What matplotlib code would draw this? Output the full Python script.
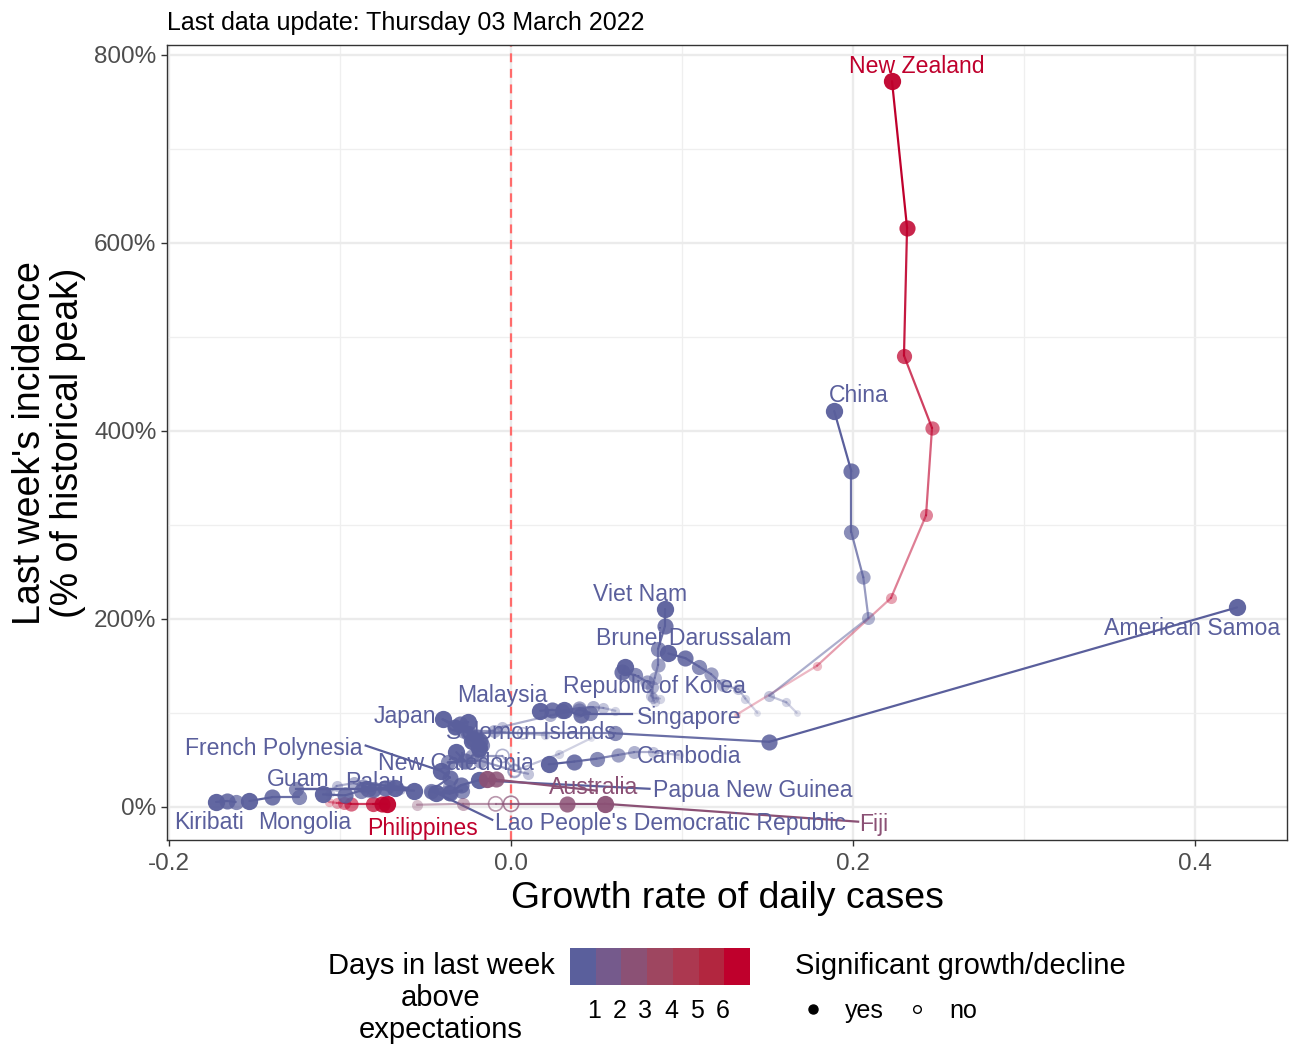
import matplotlib
matplotlib.use("Agg")
import matplotlib.pyplot as plt
from matplotlib.colors import ListedColormap
from matplotlib.lines import Line2D

plt.rcParams["font.family"] = ["Liberation Sans", "DejaVu Sans"]

# each series runs newest -> oldest: name, growth, incidence, days above, significant
nz_x = [0.2228, 0.2316, 0.2298, 0.2462, 0.2427, 0.2222, 0.179, 0.132]
nz_y = [772, 616, 480, 403, 310, 222, 150, 98]
china_x = [0.189, 0.199, 0.199, 0.206, 0.209, 0.151, 0.161, 0.167]
china_y = [421, 357, 292, 244, 201, 118, 111, 100]
vietnam_x = [0.090, 0.090, 0.086, 0.086, 0.084, 0.082, 0.084]
vietnam_y = [210, 192, 168, 151, 137, 118, 111]
brunei_x = [0.092, 0.102, 0.110, 0.117, 0.124, 0.133, 0.137, 0.144]
brunei_y = [163, 158, 149, 141, 129, 125, 115, 100]
korea_x = [0.0667, 0.065, 0.0725, 0.0795, 0.0825, 0.083, 0.087]
korea_y = [149, 143, 140, 133, 127, 116, 115]
malaysia_x = [0.017, 0.024, 0.030, 0.040, 0.048, 0.054, 0.061]
malaysia_y = [102, 103, 102, 105, 106, 105, 102]
singapore_x = [0.031, 0.041, 0.046, 0.040, 0.023, -0.005, -0.02]
singapore_y = [103, 97, 100, 103, 97, 85, 75]
japan_x = [-0.040, -0.033, -0.025, -0.020, -0.018]
japan_y = [93, 85, 78, 75, 72]
solomon_x = [-0.025, -0.030, -0.033, -0.028, -0.01, 0.007, 0.02]
solomon_y = [90, 88, 85, 80, 80, 78, 76]
samoa_x = [0.4246, 0.151, 0.061, -0.024]
samoa_y = [212, 69, 78, 78]
cluster_x = [-0.023, -0.018, -0.019, -0.023, -0.005, 0.002, 0.028, 0.047]
cluster_y = [70, 70, 60, 54, 54, 38, 56, 73]
cluster2_x = [-0.019, -0.022, -0.017]
cluster2_y = [62, 72, 66]
french_x = [-0.041, -0.0357, -0.047]
french_y = [38, 31, 17]
caledonia_x = [-0.032, -0.027, -0.037, -0.018, 0.002, 0.010]
caledonia_y = [58, 49, 47, 49, 38, 35]
cambodia_x = [0.022, 0.037, 0.050, 0.0626, 0.072, 0.083, 0.098]
cambodia_y = [45, 48, 51, 55, 58, 58, 55]
lao_x = [-0.044, -0.0357, -0.0287, -0.047, -0.036]
lao_y = [15, 14, 17, 16, 22]
papua_x = [-0.019, -0.029, -0.036]
papua_y = [28, 23, 14]
australia_x = [-0.014, -0.009]
australia_y = [29, 29]
fiji_x = [0.055, 0.033, 0.0, -0.009, -0.028, -0.055]
fiji_y = [3, 3, 3, 3, 3, 2]
phil_x = [-0.0725, -0.0755, -0.081, -0.0936, -0.0977, -0.102, -0.1065]
phil_y = [3, 3, 3, 3, 4, 4, 5]
kiribati_x = [-0.1725, -0.166, -0.161]
kiribati_y = [5, 6, 5]
mongolia_x = [-0.153, -0.140, -0.124]
mongolia_y = [6, 10, 10]
mongolia2_x = [-0.110, -0.097, -0.088, -0.081, -0.071, -0.065]
mongolia2_y = [13, 12, 17, 17, 22, 19]
palau_x = [-0.068, -0.074, -0.08, -0.0866, -0.092, -0.102, -0.106]
palau_y = [20, 20, 19, 22, 25, 22, 15]
guam_x = [-0.0567, -0.0836, -0.1257]
guam_y = [17, 19, 19]

series = [
    ("New Zealand", nz_x, nz_y, 6, None),
    ("China", china_x, china_y, 0, None),
    ("Viet Nam", vietnam_x, vietnam_y, 0, None),
    ("Brunei", brunei_x, brunei_y, 0, None),
    ("Korea", korea_x, korea_y, 0, None),
    ("Malaysia", malaysia_x, malaysia_y, 0, None),
    ("Singapore", singapore_x, singapore_y, 0, None),
    ("Japan", japan_x, japan_y, 0, None),
    ("Solomon", solomon_x, solomon_y, 0, [5]),
    ("Samoa", samoa_x, samoa_y, 0, None),
    ("Cluster", cluster_x, cluster_y, 0, [4, 5]),
    ("Cluster2", cluster2_x, cluster2_y, 0, None),
    ("French", french_x, french_y, 0, None),
    ("Caledonia", caledonia_x, caledonia_y, 0, [4]),
    ("Cambodia", cambodia_x, cambodia_y, 0, None),
    ("Lao", lao_x, lao_y, 0, None),
    ("Papua", papua_x, papua_y, 0, None),
    ("Australia", australia_x, australia_y, 2, None),
    ("Fiji", fiji_x, fiji_y, 2, [2, 3]),
    ("Philippines", phil_x, phil_y, 6, None),
    ("Kiribati", kiribati_x, kiribati_y, 0, None),
    ("Mongolia", mongolia_x, mongolia_y, 0, None),
    ("Mongolia2", mongolia2_x, mongolia2_y, 0, None),
    ("Palau", palau_x, palau_y, 0, None),
    ("Guam", guam_x, guam_y, 0, None),
]

label_names = ["New Zealand", "China", "Viet Nam", "Brunei Darussalam", "Republic of Korea",
               "Malaysia", "Singapore", "Japan", "Solomon Islands", "French Polynesia",
               "Cambodia", "New Caledonia", "American Samoa", "Australia", "Papua New Guinea",
               "Guam", "Palau", "Kiribati", "Mongolia", "Philippines",
               "Lao People's Democratic Republic", "Fiji"]
label_x = [0.2374, 0.2035, 0.0754, 0.107, 0.0836, -0.005, 0.104, -0.062, 0.0117, -0.1386,
           0.104, -0.032, 0.398, 0.048, 0.1415, -0.1246, -0.080, -0.1766, -0.1205, -0.0515,
           0.093, 0.2123]
label_y = [788, 437, 226, 179, 128, 118, 95, 96, 79, 62, 53, 46, 190, 20, 17, 29, 26, -17, -17,
           -23, -18, -19]
label_days = [6, 0, 0, 0, 0, 0, 0, 0, 0, 0, 0, 0, 0, 2, 0, 0, 0, 0, 0, 6, 0, 2]

# ggrepel style segments from a point out to its label
seg_x0 = [-0.041, -0.044, -0.019, 0.055, 0.042, -0.1257, -0.040, -0.010, -0.088]
seg_y0 = [38, 15, 28, 3, 99, 19, 93, 29, 25]
seg_x1 = [-0.085, -0.011, 0.081, 0.203, 0.071, -0.06, -0.024, 0.05, -0.06]
seg_y1 = [65, -14, 19, -16, 99, 19, 80, 17, 20]
seg_days = [0, 0, 0, 2, 0, 0, 0, 2, 0]

day_ticks = [1, 2, 3, 4, 5, 6]
ramp = ["#5A5F9C", "#755A8C", "#8B5175", "#9E4660", "#AC3850", "#B2263F", "#BF002C"]

alphas = [1.0, 0.9, 0.75, 0.62, 0.5, 0.38, 0.28, 0.2]
sizes = [155, 135, 120, 105, 88, 64, 44, 24]


def main() -> None:
    fig = plt.figure(figsize=(12.99, 10.62), dpi=100)
    ax = fig.add_axes([167 / 1299, 1 - 840 / 1062, 1120 / 1299, 795 / 1062])

    for (name, xs, ys, days, hollow) in series:
        color = ramp[days]
        hollow = hollow or []
        for i in range(len(xs) - 1):
            a = alphas[min(i, len(alphas) - 1)]
            ax.plot(xs[i:i + 2], ys[i:i + 2], color=color, lw=1.6, alpha=a, zorder=3,
                    solid_capstyle="round")
        for i in reversed(range(len(xs))):
            a = alphas[min(i, len(alphas) - 1)] * 0.95
            s = sizes[min(i, len(sizes) - 1)]
            if i in hollow:
                ax.scatter(xs[i], ys[i], s=s, facecolors="none", edgecolors=color, alpha=a,
                           linewidths=1.2, zorder=4)
            else:
                ax.scatter(xs[i], ys[i], s=s, color=color, alpha=a, linewidths=0, zorder=4)

    for x0, y0, x1, y1, d in zip(seg_x0, seg_y0, seg_x1, seg_y1, seg_days):
        ax.plot([x0, x1], [y0, y1], color=ramp[d], lw=1.6, zorder=3)

    for name, x, y, d in zip(label_names, label_x, label_y, label_days):
        ax.text(x, y, name, color=ramp[d], fontsize=16.6, ha="center", va="center", zorder=5)

    ax.axvline(0, color="#FF6B6B", ls=(0, (4, 3)), lw=1.6, zorder=2)

    ax.set_xlim(-0.2012, 0.4538)
    ax.set_ylim(-35.5, 810.5)
    ax.set_xticks([-0.2, 0.0, 0.2, 0.4])
    ax.set_xticklabels(["-0.2", "0.0", "0.2", "0.4"])
    ax.set_xticks([-0.1, 0.1, 0.3], minor=True)
    ax.set_yticks([0, 200, 400, 600, 800])
    ax.set_yticklabels(["0%", "200%", "400%", "600%", "800%"])
    ax.set_yticks([100, 300, 500, 700], minor=True)
    ax.grid(True, which="major", color="#EBEBEB", lw=1.7, zorder=0)
    ax.grid(True, which="minor", color="#EFEFEF", lw=0.9, zorder=0)
    ax.set_axisbelow(True)
    ax.tick_params(axis="both", which="major", labelsize=17.5, labelcolor="#4D4D4D",
                   color="#333333", length=4, width=1)
    ax.tick_params(axis="x", which="major", pad=5.5)
    ax.tick_params(axis="both", which="minor", length=0)
    for sp in ax.spines.values():
        sp.set_color("#333333")
        sp.set_linewidth(1)

    fig.text(167 / 1299, 1 - 23 / 1062, "Last data update: Thursday 03 March 2022",
             fontsize=18, ha="left", va="center")
    fig.text(727 / 1299, 1 - 899 / 1062, "Growth rate of daily cases", fontsize=26.9,
             ha="center", va="center")
    fig.text(49 / 1299, 1 - 443 / 1062, "Last week's incidence\n(% of historical peak)",
             fontsize=27, rotation=90, ha="center", va="center", linespacing=1.08)

    # legend
    fig.text(441 / 1299, 1 - 998 / 1062, "Days in last week\nabove\nexpectations", fontsize=21,
             ha="center", va="center", linespacing=1.17)
    cax = fig.add_axes([570 / 1299, 1 - 985 / 1062, 180 / 1299, 37 / 1062])
    cax.pcolormesh([0, 1, 2, 3, 4, 5, 6, 7], [0, 1], [list(range(7))],
                   cmap=ListedColormap(ramp), vmin=-0.5, vmax=6.5)
    cax.set_xticks([t - 0.07 for t in day_ticks], labels=day_ticks)
    cax.set_yticks([])
    cax.tick_params(axis="x", length=0, labelsize=18, pad=10)
    for sp in cax.spines.values():
        sp.set_visible(False)

    fig.text(795 / 1299, 1 - 966 / 1062, "Significant growth/decline", fontsize=21,
             ha="left", va="center")
    lax = fig.add_axes([0, 0, 1, 1], facecolor="none")
    lax.set_axis_off()
    lax.set_xlim(0, 1299)
    lax.set_ylim(1062, 0)
    lax.add_line(Line2D([813], [1009], marker="o", ms=6.5, color="black"))
    lax.add_line(Line2D([917], [1009], marker="o", ms=5.5, mfc="none", mec="black", mew=1))
    lax.text(845, 1011, "yes", fontsize=18, ha="left", va="center")
    lax.text(949, 1011, "no", fontsize=18, ha="left", va="center")

    fig.savefig("out.png", dpi=100)


if __name__ == "__main__":
    main()
